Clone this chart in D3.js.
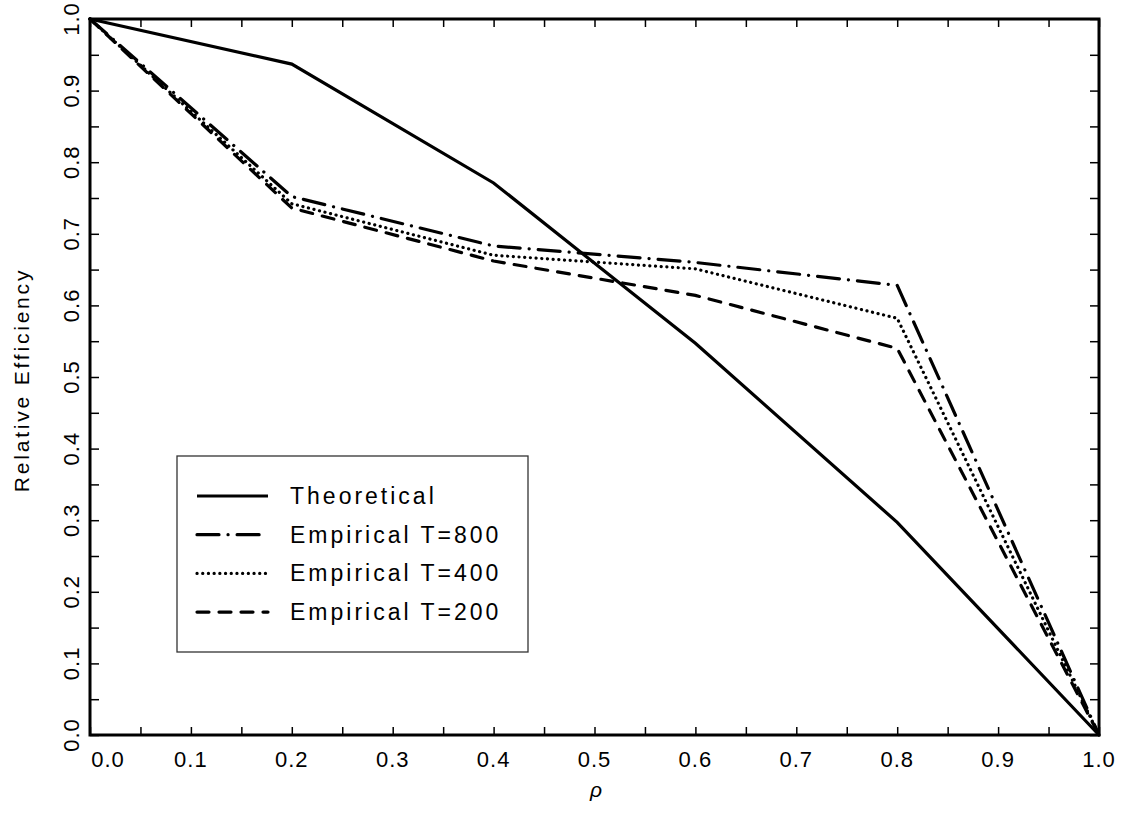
<!DOCTYPE html>
<html>
<head>
<meta charset="utf-8">
<script src="https://cdn.jsdelivr.net/npm/d3@7"></script>
<style>
  body { margin: 0; background: #fff; }
  svg text { font-family: "Liberation Sans", Arial, sans-serif; fill: #000; }
</style>
</head>
<body>
<div id="vis1"></div>
<script>
const rho = [0.0, 0.2, 0.4, 0.6, 0.8, 1.0];
const theoretical = [1.0, 0.937, 0.771, 0.547, 0.297, 0.0];
const emp800 = [1.0, 0.752, 0.683, 0.660, 0.628, 0.0];
const emp400 = [1.0, 0.742, 0.670, 0.651, 0.582, 0.0];
const emp200 = [1.0, 0.736, 0.662, 0.614, 0.540, 0.0];
const x_ticks = [0.0, 0.1, 0.2, 0.3, 0.4, 0.5, 0.6, 0.7, 0.8, 0.9, 1.0];
const y_ticks = [0.0, 0.1, 0.2, 0.3, 0.4, 0.5, 0.6, 0.7, 0.8, 0.9, 1.0];
const minor_ticks = d3.range(0, 21).map(i => i / 20);
const series_names = ["Theoretical", "Empirical T=800", "Empirical T=400", "Empirical T=200"];

const frame_width = 1124;
const frame_height = 823;
const margins = {left: 90, right: 25, top: 19, bottom: 88};

// dash styles for each series (same order as series_names)
const styles = [
  {dash: null, cap: "butt"},
  {dash: "22,9,0.1,9", cap: "round"},
  {dash: "0.1,5.6", cap: "round"},
  {dash: "12,10", cap: "round"}
];

const x_scale = d3.scaleLinear()
    .domain([0, 1])
    .range([margins.left, frame_width - margins.right]);

const y_scale = d3.scaleLinear()
    .domain([0, 1])
    .range([frame_height - margins.bottom, margins.top]);

const frame1 = d3.select("#vis1")
    .append("svg")
        .attr("width", frame_width)
        .attr("height", frame_height);

const plot_w = frame_width - margins.left - margins.right;
const plot_h = frame_height - margins.top - margins.bottom;

// inward ticks on all four sides
frame1.append("g")
    .attr("transform", "translate(0," + (frame_height - margins.bottom) + ")")
    .call(d3.axisBottom(x_scale).tickValues(minor_ticks).tickSize(-8).tickFormat(""));
frame1.append("g")
    .attr("transform", "translate(0," + margins.top + ")")
    .call(d3.axisTop(x_scale).tickValues(minor_ticks).tickSize(-8).tickFormat(""));
frame1.append("g")
    .attr("transform", "translate(" + margins.left + ",0)")
    .call(d3.axisLeft(y_scale).tickValues(minor_ticks).tickSize(-9).tickFormat(""));
frame1.append("g")
    .attr("transform", "translate(" + (frame_width - margins.right) + ",0)")
    .call(d3.axisRight(y_scale).tickValues(minor_ticks).tickSize(-9).tickFormat(""));

frame1.selectAll(".tick line").attr("stroke", "#000").attr("stroke-width", 1.5);
frame1.selectAll(".domain").remove();

// frame
frame1.append("rect")
    .attr("x", margins.left)
    .attr("y", margins.top)
    .attr("width", plot_w)
    .attr("height", plot_h)
    .attr("fill", "none")
    .attr("stroke", "#000")
    .attr("stroke-width", 3);

// tick labels
frame1.selectAll(".xlab")
    .data(x_ticks)
    .enter()
    .append("text")
        .attr("x", (d) => x_scale(d) + (d === 0 ? 18 : 0))
        .attr("y", 767)
        .attr("text-anchor", "middle")
        .attr("font-size", "22px")
        .attr("letter-spacing", "1px")
        .text((d) => d.toFixed(1));

frame1.selectAll(".ylab")
    .data(y_ticks)
    .enter()
    .append("text")
        .attr("transform", (d) => "translate(79," + y_scale(d) + ") rotate(-90)")
        .attr("text-anchor", "middle")
        .attr("font-size", "22px")
        .attr("letter-spacing", "1px")
        .text((d) => d.toFixed(1));

// axis titles
frame1.append("text")
    .attr("transform", "translate(29,380) rotate(-90)")
    .attr("text-anchor", "middle")
    .attr("font-size", "21px")
    .attr("letter-spacing", "2.8px")
    .text("Relative Efficiency");

frame1.append("text")
    .attr("x", 596)
    .attr("y", 797)
    .attr("text-anchor", "middle")
    .attr("font-size", "21px")
    .attr("font-style", "italic")
    .text("ρ");

// series lines
const all_series = [theoretical, emp800, emp400, emp200];
const line = d3.line()
    .x((d, i) => x_scale(rho[i]))
    .y((d) => y_scale(d));

frame1.selectAll(".series")
    .data(all_series)
    .enter()
    .append("path")
        .attr("d", (d) => line(d))
        .attr("fill", "none")
        .attr("stroke", "#000")
        .attr("stroke-width", 3.2)
        .attr("stroke-linecap", (d, i) => styles[i].cap)
        .attr("stroke-dasharray", (d, i) => styles[i].dash);

// legend
const legend = frame1.append("g");
legend.append("rect")
    .attr("x", 177)
    .attr("y", 456)
    .attr("width", 351)
    .attr("height", 196)
    .attr("fill", "#fff")
    .attr("stroke", "#333")
    .attr("stroke-width", 1.3);

const leg_rows = legend.selectAll(".row")
    .data(series_names)
    .enter()
    .append("g")
        .attr("transform", (d, i) => "translate(0," + (496 + i * 38.7) + ")");

leg_rows.append("line")
    .attr("x1", 197)
    .attr("x2", 268)
    .attr("stroke", "#000")
    .attr("stroke-width", 3.2)
    .attr("stroke-linecap", (d, i) => styles[i].cap)
    .attr("stroke-dasharray", (d, i) => styles[i].dash);

leg_rows.append("text")
    .attr("x", 290)
    .attr("y", 8)
    .attr("font-size", "23px")
    .attr("letter-spacing", "3px")
    .text((d) => d);
</script>
</body>
</html>
